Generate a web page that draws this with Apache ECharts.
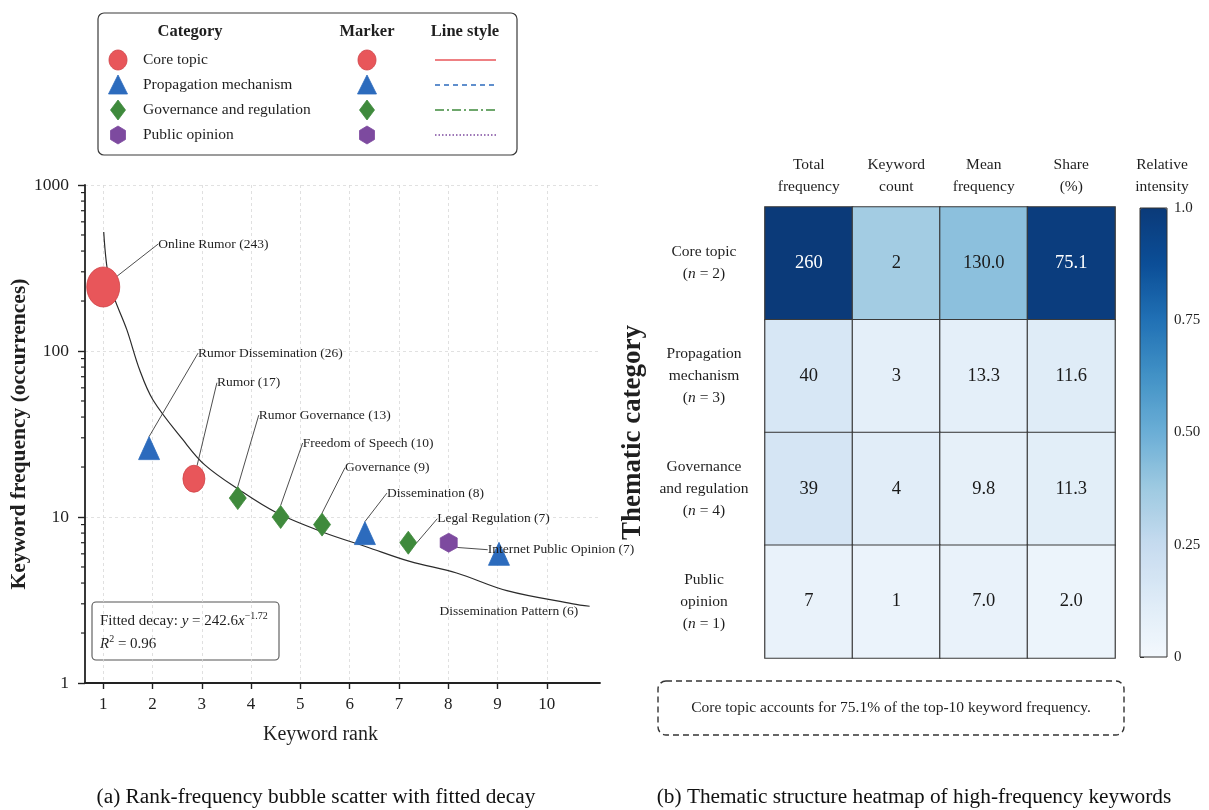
<!DOCTYPE html>
<html>
<head>
<meta charset="utf-8">
<script src="https://cdn.jsdelivr.net/npm/echarts@6/dist/echarts.min.js"></script>
<style>
  html, body { margin: 0; padding: 0; background: #ffffff; }
  #chart { width: 1209px; height: 810px; }
</style>
</head>
<body>
<div id="chart"></div>
<script>
// ---------- Panel (a): top-10 keywords, rank vs frequency ----------
const keywords = ['Online Rumor', 'Rumor Dissemination', 'Rumor', 'Rumor Governance', 'Freedom of Speech',
  'Governance', 'Dissemination', 'Legal Regulation', 'Internet Public Opinion', 'Dissemination Pattern'];
const keywordFrequency = [243, 26, 17, 13, 10, 9, 8, 7, 7, 6];
const keywordRank = [1.0, 1.93, 2.84, 3.73, 4.6, 5.44, 6.31, 7.19, 8.01, 9.03];
const keywordCategory = ['Core topic', 'Propagation mechanism', 'Core topic', 'Governance and regulation',
  'Governance and regulation', 'Governance and regulation', 'Propagation mechanism',
  'Governance and regulation', 'Public opinion', 'Propagation mechanism'];

// fitted decay curve, sampled along the rank axis
const fitRank = [1.01, 1.14, 1.48, 1.74, 2.01, 2.62, 3.06, 3.77, 4.52, 5.46, 6.35, 7.22, 8.17, 9.19, 10.53, 10.87];
const fitFrequency = [521, 250, 134, 76.8, 50.7, 29.1, 20.6, 14.5, 10.6, 8.1, 6.6, 5.4, 4.6, 3.6, 3.0, 2.9];

const rankTicks = [1, 2, 3, 4, 5, 6, 7, 8, 9, 10];
const frequencyMinorTicks = [2, 3, 4, 5, 6, 7, 8, 9, 20, 30, 40, 50, 60, 70, 80, 90, 200, 300, 400, 500, 600, 700, 800, 900];

// ---------- Panel (b): thematic structure ----------
const categories = ['Core topic', 'Propagation mechanism', 'Governance and regulation', 'Public opinion'];
const metricNames = ['Total\nfrequency', 'Keyword\ncount', 'Mean\nfrequency', 'Share\n(%)'];
const totalFrequency = [260, 40, 39, 7];
const keywordCount = [2, 3, 4, 1];
const meanFrequency = [130.0, 13.3, 9.8, 7.0];
const sharePercent = [75.1, 11.6, 11.3, 2.0];
const relativeIntensity = [
  [1.00, 0.36, 0.42, 0.98],
  [0.16, 0.09, 0.09, 0.12],
  [0.17, 0.11, 0.08, 0.10],
  [0.06, 0.045, 0.06, 0.04]
];

// ---------- styling ----------
const FONT = '"Liberation Serif", "DejaVu Serif", serif';
const INK = '#1f1f1f';
const hexagonPath = 'path://M0,-10L8.66,-5L8.66,5L0,10L-8.66,5L-8.66,-5Z';
const categoryStyle = {
  'Core topic':                { color: '#e8565a', border: '#cf4347', symbol: 'circle',   size: [22, 27], dash: 'solid' },
  'Propagation mechanism':     { color: '#2c6bbd', border: '#2c6bbd', symbol: 'triangle', size: [21, 23], dash: [5, 4] },
  'Governance and regulation': { color: '#3f8a3c', border: '#3f8a3c', symbol: 'diamond',  size: [17, 23], dash: [9, 3, 2, 3] },
  'Public opinion':            { color: '#7d4a9f', border: '#7d4a9f', symbol: hexagonPath, size: [17, 19], dash: [1.5, 2] }
};
const markerSizeOverride = { 'Online Rumor': [33, 40] };
// label anchor offsets from each marker centre (px)
const labelOffset = {
  'Online Rumor':            { dx: 55, dy: -43 },
  'Rumor Dissemination':     { dx: 49, dy: -95 },
  'Rumor':                   { dx: 23, dy: -96 },
  'Rumor Governance':        { dx: 21, dy: -83 },
  'Freedom of Speech':       { dx: 22, dy: -74 },
  'Governance':              { dx: 23, dy: -57 },
  'Dissemination':           { dx: 22, dy: -40 },
  'Legal Regulation':        { dx: 29, dy: -24 },
  'Internet Public Opinion': { dx: 39, dy: 7 },
  'Dissemination Pattern':   { dx: 10, dy: 58, align: 'center', noLine: true }
};
const wrappedCategory = {
  'Core topic': ['Core topic'],
  'Propagation mechanism': ['Propagation', 'mechanism'],
  'Governance and regulation': ['Governance', 'and regulation'],
  'Public opinion': ['Public', 'opinion']
};
const blues = ['#f3f8fd', '#deebf7', '#c6dbef', '#9ecae1', '#6baed6', '#4292c6', '#2171b5', '#0b4e97', '#0b3a79'];

const RANK_MIN = 0.63, RANK_MAX = 11.08;

// ---------- scatter series (one per category) ----------
const scatterSeries = categories.map(cat => {
  const st = categoryStyle[cat];
  const items = [];
  keywords.forEach((kw, i) => {
    if (keywordCategory[i] !== cat) return;
    const off = labelOffset[kw];
    items.push({
      name: kw,
      value: [keywordRank[i], keywordFrequency[i]],
      symbolSize: markerSizeOverride[kw] || st.size,
      labelLine: { show: !off.noLine }
    });
  });
  return {
    type: 'scatter', name: cat, xAxisIndex: 0, yAxisIndex: 0, z: 5,
    symbol: st.symbol,
    itemStyle: { color: st.color, borderColor: st.border, borderWidth: 0.8, opacity: 1 },
    data: items,
    label: {
      show: true, fontFamily: FONT, fontSize: 13.5, color: INK,
      formatter: p => `${p.name} (${p.value[1]})`
    },
    labelLayout: params => {
      const item = items[params.dataIndex];
      const off = labelOffset[item.name];
      const r = params.rect;
      return {
        x: r.x + r.width / 2 + off.dx,
        y: r.y + r.height / 2 + off.dy,
        align: off.align || 'left',
        verticalAlign: 'middle'
      };
    },
    labelLine: { show: true, lineStyle: { color: '#3a3a3a', width: 0.9 } },
    emphasis: { disabled: true }
  };
});

// ---------- heatmap series ----------
const displayValues = categories.map((c, r) => [
  String(totalFrequency[r]), String(keywordCount[r]), meanFrequency[r].toFixed(1), sharePercent[r].toFixed(1)
]);
const heatData = [];
categories.forEach((c, r) => {
  metricNames.forEach((m, k) => {
    const v = relativeIntensity[r][k];
    heatData.push({ value: [k, r, v], label: { color: v > 0.6 ? '#ffffff' : '#1a1a1a' } });
  });
});

// ---------- legend table (category / marker / line style) ----------
function legendElements() {
  const ch = [];
  ch.push({ type: 'rect', shape: { x: 98, y: 13, width: 419, height: 142, r: 6 },
    style: { fill: '#ffffff', stroke: '#3a3a3a', lineWidth: 1.2 } });
  const headStyle = { fontFamily: FONT, fontSize: 16.5, fontWeight: 'bold', fill: INK, align: 'center', verticalAlign: 'middle' };
  ch.push({ type: 'text', x: 190, y: 32, style: Object.assign({ text: 'Category' }, headStyle) });
  ch.push({ type: 'text', x: 367, y: 32, style: Object.assign({ text: 'Marker' }, headStyle) });
  ch.push({ type: 'text', x: 465, y: 32, style: Object.assign({ text: 'Line style' }, headStyle) });
  const rowY = [60, 85, 110, 135];
  const icon = (cat, cx, cy) => {
    const st = categoryStyle[cat];
    const s = { fill: st.color, stroke: st.border, lineWidth: 0.8 };
    if (st.symbol === 'circle') return { type: 'ellipse', shape: { cx, cy, rx: 9, ry: 10 }, style: s };
    if (st.symbol === 'triangle') return { type: 'polygon', shape: { points: [[cx, cy - 10], [cx + 9.5, cy + 9], [cx - 9.5, cy + 9]] }, style: s };
    if (st.symbol === 'diamond') return { type: 'polygon', shape: { points: [[cx, cy - 10], [cx + 7.5, cy], [cx, cy + 10], [cx - 7.5, cy]] }, style: s };
    return { type: 'polygon', shape: { points: [[cx, cy - 9], [cx + 7.5, cy - 4.5], [cx + 7.5, cy + 4.5], [cx, cy + 9], [cx - 7.5, cy + 4.5], [cx - 7.5, cy - 4.5]] }, style: s };
  };
  categories.forEach((cat, i) => {
    const y = rowY[i];
    const st = categoryStyle[cat];
    ch.push(icon(cat, 118, y));
    ch.push({ type: 'text', x: 143, y, style: { text: cat, fontFamily: FONT, fontSize: 15.5, fill: INK, align: 'left', verticalAlign: 'middle' } });
    ch.push(icon(cat, 367, y));
    ch.push({ type: 'line', shape: { x1: 435, y1: y, x2: 496, y2: y },
      style: { stroke: st.color, lineWidth: 1.4, lineDash: st.dash === 'solid' ? null : st.dash } });
  });
  return ch;
}

const richMath = {
  n: { fontFamily: FONT, fontSize: 15, fill: INK, lineHeight: 20 },
  i: { fontFamily: FONT, fontSize: 15, fill: INK, lineHeight: 20, fontStyle: 'italic' },
  s: { fontFamily: FONT, fontSize: 10, fill: INK, lineHeight: 10, verticalAlign: 'top' }
};

const option = {
  backgroundColor: '#ffffff',
  animation: false,
  textStyle: { fontFamily: FONT },
  grid: [
    { left: 85, right: 609, top: 185, bottom: 127, outerBoundsMode: 'none' },
    { left: 765, right: 94, top: 207, bottom: 152, outerBoundsMode: 'none' },
    { left: 1140, width: 27, top: 208, height: 449, show: true, borderColor: '#333', borderWidth: 1,
      backgroundColor: 'transparent', z: 6, outerBoundsMode: 'none' }
  ],
  xAxis: [
    {
      gridIndex: 0, type: 'value', min: RANK_MIN, max: RANK_MAX,
      name: 'Keyword rank', nameLocation: 'middle', nameGap: 42,
      nameTextStyle: { fontFamily: FONT, fontSize: 20, color: INK, padding: [0, 44, 0, 0] },
      axisLine: { show: true, onZero: false, lineStyle: { color: '#222', width: 1.8 } },
      axisTick: { show: true, customValues: rankTicks, length: 6, lineStyle: { color: '#222', width: 1.4 } },
      axisLabel: { customValues: rankTicks, fontFamily: FONT, fontSize: 17, color: INK, margin: 13 },
      splitLine: { show: true, lineStyle: { color: '#d9d9d9', type: [3, 3], width: 0.8 } }
    },
    {
      gridIndex: 1, type: 'category', data: metricNames, position: 'top',
      axisLine: { show: false }, axisTick: { show: false },
      axisLabel: { fontFamily: FONT, fontSize: 15.5, color: INK, lineHeight: 22, margin: 9 },
      splitLine: { show: false }
    },
    { gridIndex: 2, type: 'value', show: false, min: 0, max: 1 }
  ],
  yAxis: [
    {
      gridIndex: 0, type: 'log', logBase: 10, min: 1, max: 1000,
      name: 'Keyword frequency (occurrences)', nameLocation: 'middle', nameGap: 46,
      nameTextStyle: { fontFamily: FONT, fontSize: 21.5, fontWeight: 'bold', color: INK },
      axisLine: { show: true, lineStyle: { color: '#222', width: 1.8 } },
      axisTick: { show: true, length: 7, lineStyle: { color: '#222', width: 1.4 } },
      axisLabel: { fontFamily: FONT, fontSize: 17.5, color: INK, margin: 16, formatter: v => String(v) },
      splitLine: { show: true, lineStyle: { color: '#d9d9d9', type: [3, 3], width: 0.8 } }
    },
    {
      gridIndex: 1, type: 'category', data: categories, inverse: true,
      name: 'Thematic category', nameLocation: 'middle', nameGap: 118,
      nameTextStyle: { fontFamily: FONT, fontSize: 27, fontWeight: 'bold', color: INK },
      axisLine: { show: false }, axisTick: { show: false },
      axisLabel: {
        align: 'center', margin: 61,
        formatter: (val, idx) => {
          const lines = wrappedCategory[val].map(l => `{t|${l}}`);
          lines.push(`{t|(}{i|n}{t| = ${keywordCount[idx]})}`);
          return lines.join('\n');
        },
        rich: {
          t: { fontFamily: FONT, fontSize: 15.5, color: INK, lineHeight: 22 },
          i: { fontFamily: FONT, fontSize: 15.5, color: INK, lineHeight: 22, fontStyle: 'italic' }
        }
      },
      splitLine: { show: false }
    },
    {
      gridIndex: 2, type: 'value', position: 'right', min: 0, max: 1, interval: 0.25,
      axisLine: { show: false },
      axisTick: { show: true, length: 4, lineStyle: { color: '#333', width: 1 } },
      axisLabel: {
        fontFamily: FONT, fontSize: 15, color: INK, margin: 7,
        formatter: v => (v === 0 ? '0' : v === 1 ? '1.0' : v.toFixed(2))
      },
      splitLine: { show: false }
    }
  ],
  visualMap: {
    type: 'continuous', min: 0, max: 1, dimension: 2, seriesIndex: 6,
    inRange: { color: blues },
    left: 1135, top: 203, padding: 5, itemWidth: 27, itemHeight: 449,
    calculable: false, realtime: false, hoverLink: false, text: null, z: 4
  },
  series: [
    {
      type: 'line', name: 'Fitted decay', xAxisIndex: 0, yAxisIndex: 0, z: 3,
      data: fitRank.map((r, i) => [r, fitFrequency[i]]),
      smooth: 0.35, showSymbol: false, symbol: 'none',
      lineStyle: { color: '#2b2b2b', width: 1.2 },
      emphasis: { disabled: true }, silent: true
    },
    {
      type: 'custom', name: 'minor ticks', xAxisIndex: 0, yAxisIndex: 0, silent: true, clip: false, z: 4,
      data: frequencyMinorTicks.map(v => [RANK_MIN, v]),
      renderItem: (params, api) => {
        const p = api.coord([api.value(0), api.value(1)]);
        return { type: 'line', shape: { x1: p[0] - 4, y1: p[1], x2: p[0], y2: p[1] },
          style: { stroke: '#222', lineWidth: 1.2 } };
      }
    },
    ...scatterSeries,
    {
      type: 'heatmap', name: 'structure', xAxisIndex: 1, yAxisIndex: 1,
      data: heatData,
      itemStyle: { borderColor: '#3a3a3a', borderWidth: 1.2 },
      label: {
        show: true, fontFamily: FONT, fontSize: 18.5,
        formatter: p => displayValues[p.value[1]][p.value[0]]
      },
      emphasis: { disabled: true }
    }
  ],
  graphic: [
    { type: 'group', z: 20, children: legendElements() },
    // colour bar title
    { type: 'text', x: 1162, y: 176, z: 20, style: {
        text: 'Relative\nintensity', fontFamily: FONT, fontSize: 15.5, lineHeight: 22,
        fill: INK, align: 'center', verticalAlign: 'middle' } },
    // fit annotation
    {
      type: 'group', z: 20,
      children: [
        { type: 'rect', shape: { x: 92, y: 602, width: 187, height: 58, r: 4 },
          style: { fill: '#ffffff', stroke: '#555555', lineWidth: 1.1 } },
        { type: 'text', x: 100, y: 621, style: {
            text: '{n|Fitted decay: }{i|y}{n| = 242.6}{i|x}{s|−1.72}',
            verticalAlign: 'middle', align: 'left', rich: richMath } },
        { type: 'text', x: 100, y: 644, style: {
            text: '{i|R}{s|2}{n| = 0.96}',
            verticalAlign: 'middle', align: 'left', rich: richMath } }
      ]
    },
    // summary note under the heatmap
    {
      type: 'group', z: 20,
      children: [
        { type: 'rect', shape: { x: 658, y: 681, width: 466, height: 54, r: 8 },
          style: { fill: '#ffffff', stroke: '#333333', lineWidth: 1.4, lineDash: [6, 4] } },
        { type: 'text', x: 891, y: 708, style: {
            text: 'Core topic accounts for 75.1% of the top-10 keyword frequency.',
            fontFamily: FONT, fontSize: 15.5, fill: INK, align: 'center', verticalAlign: 'middle' } }
      ]
    },
    // panel captions
    { type: 'text', x: 316, y: 797, z: 20, style: {
        text: '(a) Rank-frequency bubble scatter with fitted decay',
        fontFamily: FONT, fontSize: 21.3, fill: '#111', align: 'center', verticalAlign: 'middle' } },
    { type: 'text', x: 914, y: 797, z: 20, style: {
        text: '(b) Thematic structure heatmap of high-frequency keywords',
        fontFamily: FONT, fontSize: 21.3, fill: '#111', align: 'center', verticalAlign: 'middle' } }
  ]
};

const chart = echarts.init(document.getElementById('chart'), null, { renderer: 'canvas' });
chart.setOption(option);
</script>
</body>
</html>
